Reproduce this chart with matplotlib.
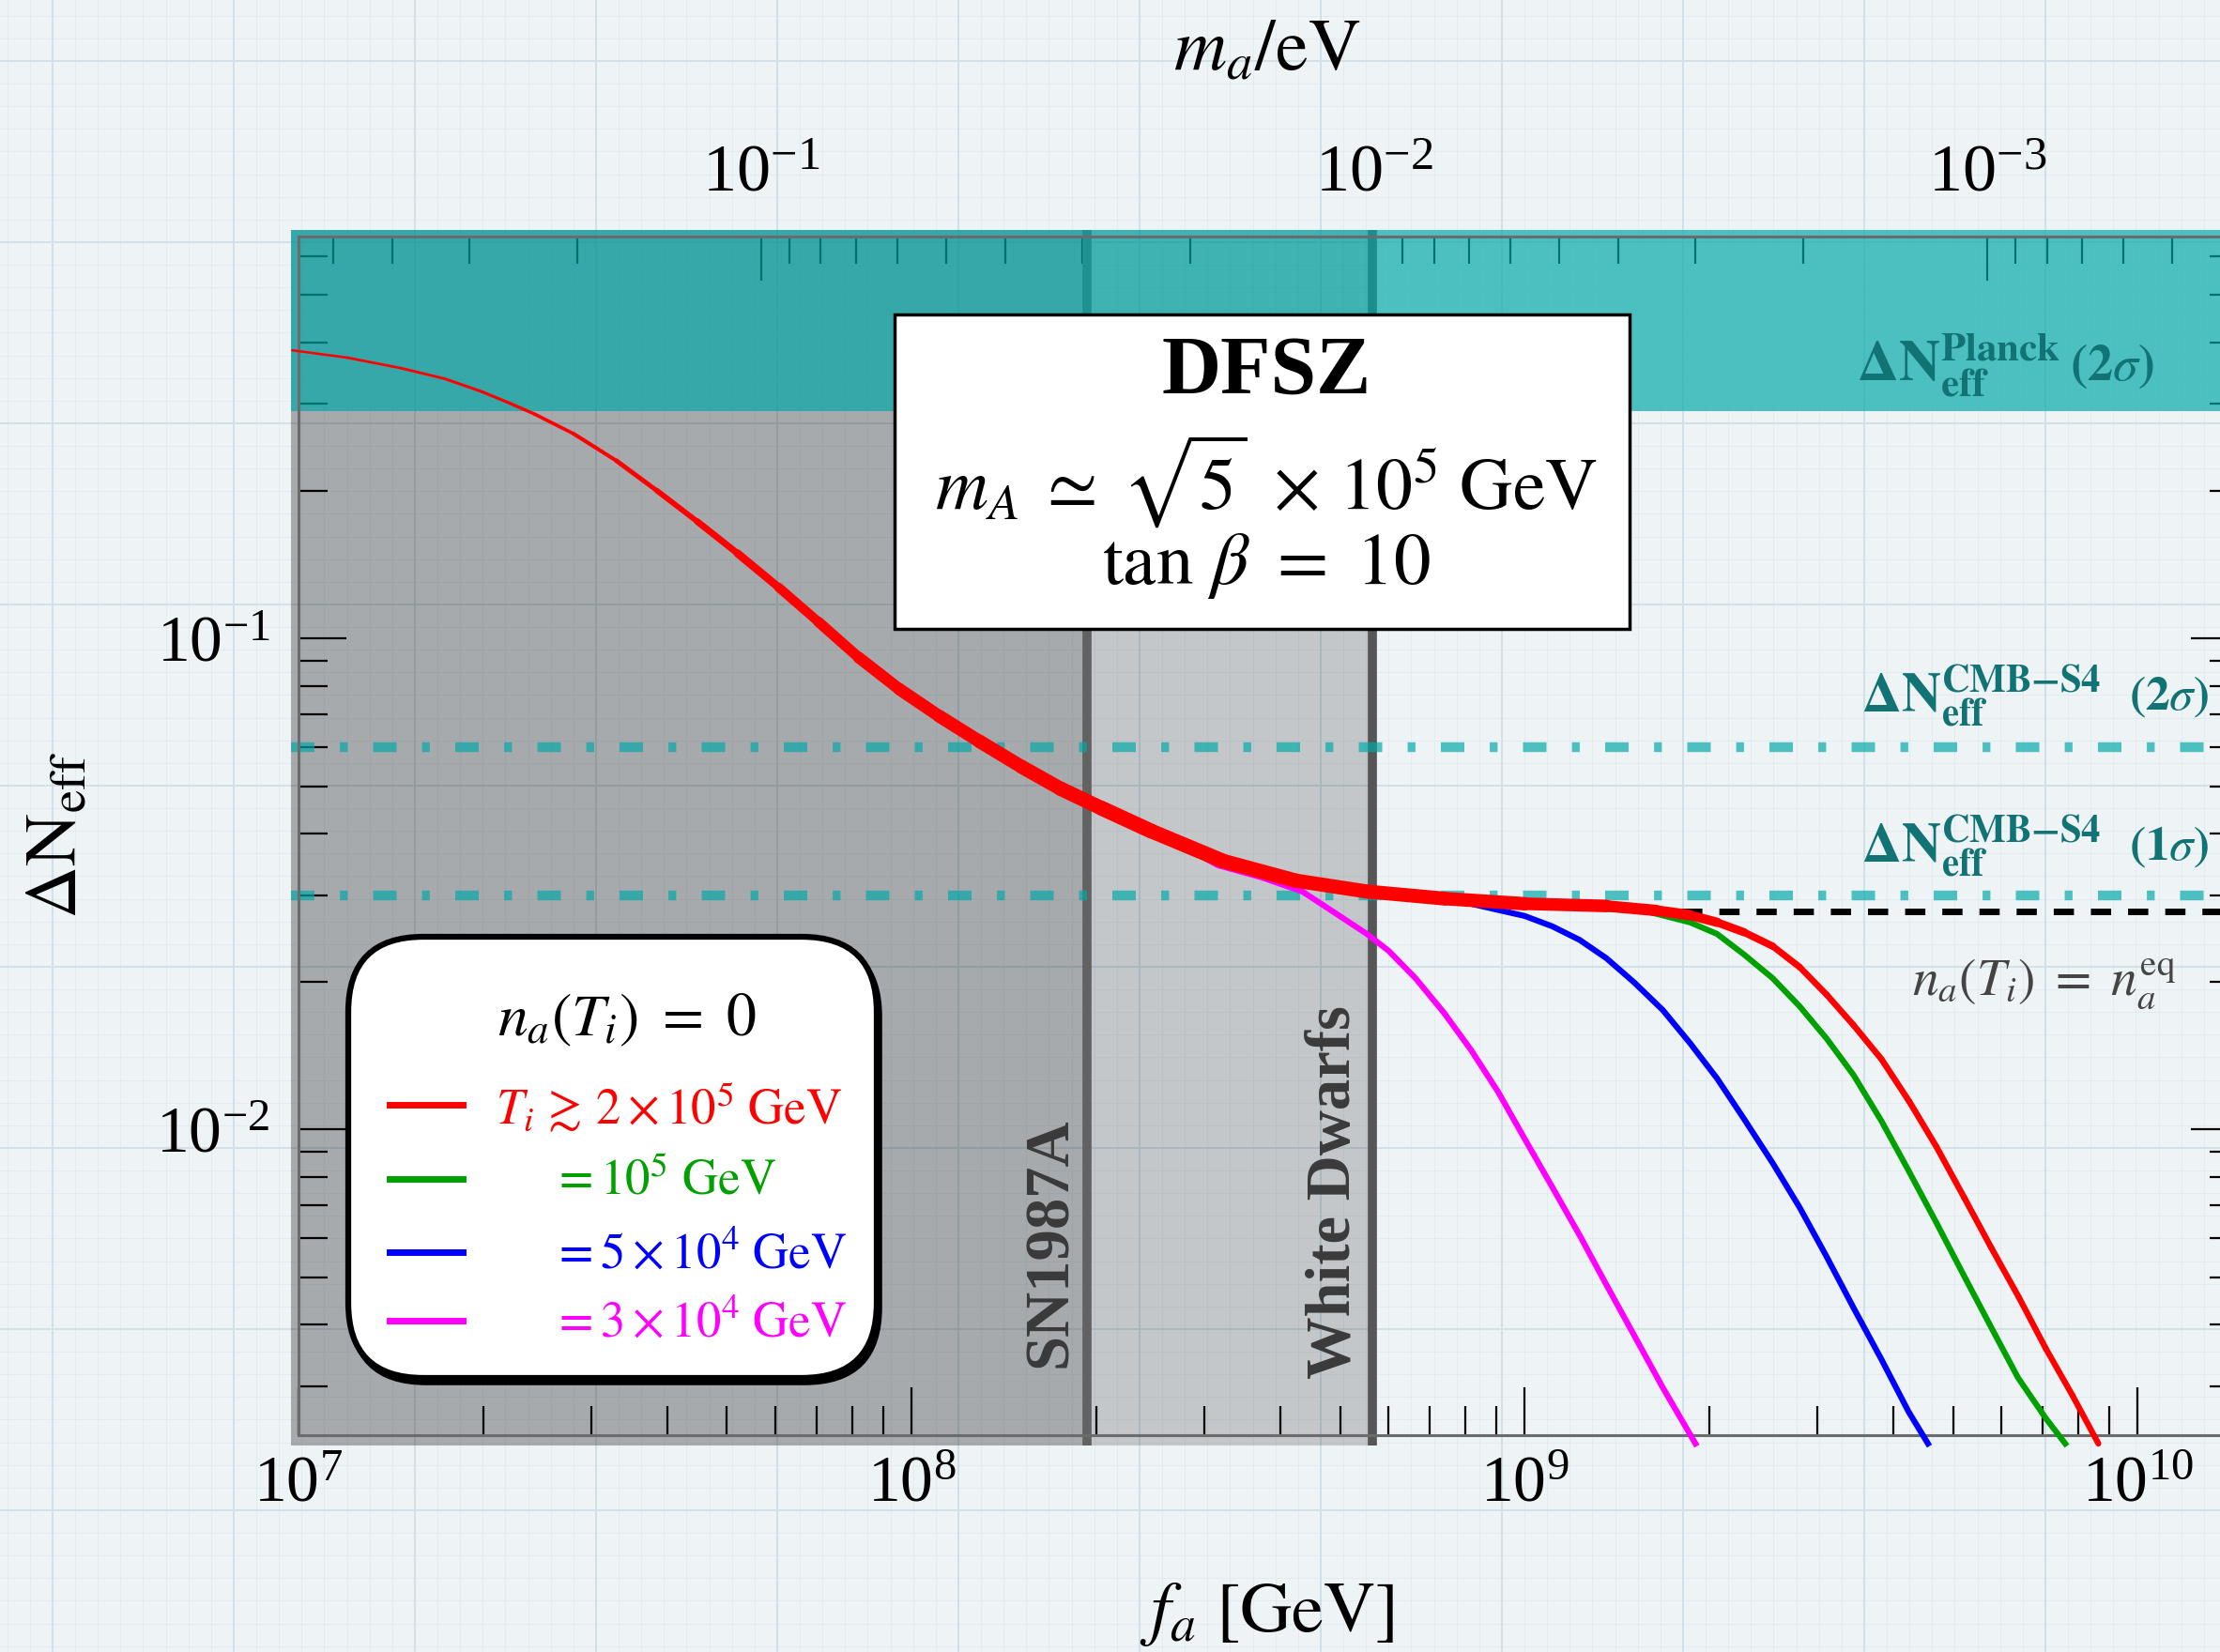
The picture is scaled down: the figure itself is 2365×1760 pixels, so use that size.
import numpy as np
import matplotlib.pyplot as plt
from matplotlib.collections import LineCollection
from matplotlib.patches import Rectangle, FancyBboxPatch
from matplotlib.lines import Line2D
from matplotlib.ticker import FixedLocator, NullFormatter

plt.rcParams['font.family'] = ['Liberation Serif', 'DejaVu Serif']
plt.rcParams['mathtext.fontset'] = 'stix'

# ---- data ----
red_fa = [9.77e6, 1.20e7, 1.47e7, 1.73e7, 1.99e7, 2.20e7, 2.43e7, 2.81e7, 3.30e7, 3.84e7,
          4.47e7, 5.20e7, 6.07e7, 7.05e7, 8.20e7, 9.55e7, 1.11e8, 1.29e8, 1.51e8, 1.75e8,
          2.04e8, 2.46e8, 3.22e8, 4.23e8, 5.53e8, 7.41e8, 1.0e9, 1.36e9, 1.64e9, 1.86e9,
          2.06e9, 2.28e9, 2.54e9, 2.81e9, 3.11e9, 3.44e9, 3.82e9, 4.24e9, 4.70e9, 5.21e9,
          5.77e9, 6.40e9, 7.08e9, 7.83e9, 8.63e9]
red_dn = [0.386, 0.373, 0.355, 0.338, 0.318, 0.302, 0.286, 0.261, 0.230, 0.200,
          0.173, 0.149, 0.127, 0.108, 0.0914, 0.0788, 0.0694, 0.0617, 0.0548, 0.0494,
          0.0451, 0.0405, 0.0352, 0.0321, 0.0305, 0.0295, 0.0288, 0.0285, 0.0279, 0.0273,
          0.0264, 0.0252, 0.0236, 0.0214, 0.0188, 0.0163, 0.0139, 0.0114, 0.0092, 0.00727,
          0.00574, 0.00455, 0.00358, 0.00287, 0.00229]

green_fa = [5.53e8, 1.0e9, 1.58e9, 1.86e9, 2.06e9, 2.28e9, 2.54e9, 2.81e9, 3.11e9,
            3.44e9, 3.82e9, 4.23e9, 4.70e9, 5.21e9, 5.77e9, 6.38e9, 7.08e9, 7.62e9]
green_dn = [0.0305, 0.0288, 0.0278, 0.0264, 0.025, 0.0227, 0.0203, 0.0178, 0.0153,
            0.0129, 0.0104, 0.00824, 0.00644, 0.00503, 0.00395, 0.00312, 0.00258, 0.00229]

blue_fa = [5.53e8, 7.41e8, 8.18e8, 8.91e8, 1.0e9, 1.11e9, 1.23e9, 1.36e9, 1.51e9, 1.68e9,
           1.86e9, 2.06e9, 2.28e9, 2.54e9, 2.81e9, 3.11e9, 3.44e9, 3.82e9, 4.23e9, 4.55e9]
blue_dn = [0.0305, 0.0294, 0.0288, 0.0281, 0.0272, 0.0259, 0.0243, 0.0223, 0.0199, 0.0175,
           0.015, 0.0127, 0.0105, 0.00853, 0.00693, 0.0055, 0.00433, 0.0034, 0.00266, 0.00229]

mag_fa = [2.51e8, 2.82e8, 3.16e8, 3.72e8, 4.34e8, 4.84e8, 5.53e8, 6.0e8, 6.64e8, 7.38e8,
          8.18e8, 9.06e8, 1.0e9, 1.11e9, 1.23e9, 1.36e9, 1.51e9, 1.68e9, 1.90e9]
mag_dn = [0.0405, 0.0373, 0.0345, 0.0326, 0.0305, 0.0279, 0.0250, 0.0231, 0.0203, 0.0173,
          0.0145, 0.0119, 0.00957, 0.00762, 0.00608, 0.00482, 0.0038, 0.00298, 0.00229]

planck_2s = 0.29
s4_2s = 0.06
s4_1s = 0.03
dn_eq = 0.0278
eq_start = 1.57e9
sn1987a = 1.93e8
white_dwarfs = 5.65e8
ma_fa = 5.69e6   # m_a [eV] * f_a [GeV]
ma_ticks = [1e-1, 1e-2, 1e-3]

# ---- figure geometry (pixels of the 2365x1760 target) ----
W, H = 2365, 1760
DPI = 100


def fx(x):
    return x / W


def fy(y):
    return 1 - y / H


fig = plt.figure(figsize=(W / DPI, H / DPI), dpi=DPI, facecolor='#eef3f6')

# graph-paper background
bg = fig.add_axes([0, 0, 1, 1], zorder=-5)
bg.set_xlim(0, W)
bg.set_ylim(H, 0)
bg.axis('off')
step = 193.0
for x in np.arange(56 - step, W + step, step / 8):
    bg.axvline(x, color='#e2eaef', lw=0.6)
for y in np.arange(65 - step, H + step, step / 8):
    bg.axhline(y, color='#e2eaef', lw=0.6)
for x in np.arange(56, W, step):
    bg.axvline(x, color='#d0e0e8', lw=1.4)
for y in np.arange(65, H, step):
    bg.axhline(y, color='#d3e0e6', lw=1.4)

ax = fig.add_axes([318 / W, 1 - 1529 / H, (2385 - 318) / W, (1529 - 252) / H])
ax.set_facecolor('none')
ax.set_xscale('log')
ax.set_yscale('log')
ax.set_xlim(1e7, 10 ** 10.165)
ax.set_ylim(10 ** -2.623, 10 ** -0.1817)

# shading reaches a little past the frame
xl0, xr = 10 ** 6.988, 10 ** 10.4
yb, yt = 10 ** -2.644, 10 ** -0.168
teal = (0.0, 0.66, 0.66)

ax.fill_between([xl0, white_dwarfs], yb, yt, color='black', alpha=0.18, lw=0, zorder=1, clip_on=False)
ax.fill_between([xl0, sn1987a], yb, yt, color='black', alpha=0.14, lw=0, zorder=1, clip_on=False)
ax.vlines([sn1987a], yb, yt, colors='#626262', lw=7, zorder=1.5, clip_on=False)
ax.vlines([white_dwarfs], yb, yt, colors='#565656', lw=7, zorder=1.5, clip_on=False)

ax.fill_between([xl0, xr], planck_2s, yt, color=teal, alpha=0.68, lw=0, zorder=2, clip_on=False)
ax.hlines([s4_2s, s4_1s], xl0, xr, colors=[teal], alpha=0.68, lw=7.5,
          linestyles=[(0, (2.4, 2.6, 0.8, 2.6))], zorder=2, clip_on=False)
ax.hlines(dn_eq, eq_start, xr, colors='black', lw=5, linestyles=[(0, (3.1, 2.6))],
          zorder=3, clip_on=False)

ax.plot(mag_fa, mag_dn, color='#ff00ff', lw=4.5, zorder=3, clip_on=False)
ax.plot(blue_fa, blue_dn, color='#0000ff', lw=4.5, zorder=3.1, clip_on=False)
ax.plot(green_fa, green_dn, color='#00a000', lw=4.5, zorder=3.2, clip_on=False)

# red curve: thicker where the family of solutions overlaps
lw_knots_x = [7.0, 7.3, 7.5, 7.65, 7.8, 7.95, 8.15, 8.35, 8.6, 8.9, 9.1, 9.25, 9.35, 9.45, 10.0]
lw_knots_w = [1.8, 2.2, 3.0, 4.5, 7.0, 9.0, 10.5, 11.5, 11.0, 10.5, 9.5, 8.0, 6.0, 4.8, 4.5]
pts = np.column_stack([red_fa, red_dn])
segs = np.stack([pts[:-1], pts[1:]], axis=1)
mid = 0.5 * (np.log10(pts[:-1, 0]) + np.log10(pts[1:, 0]))
red_lw = np.interp(mid, lw_knots_x, lw_knots_w)
lc = LineCollection(segs, linewidths=red_lw, colors='#ff0000', capstyle='round',
                    joinstyle='round', zorder=3.5, clip_on=False)
ax.add_collection(lc, autolim=False)

# ticks / spines
for s in ax.spines.values():
    s.set_color('#6b6b6b')
    s.set_linewidth(2.2)
ax.tick_params(which='both', direction='in', top=False, right=True, width=1.6, colors='black')
ax.tick_params(which='major', length=37, labelsize=50)
ax.tick_params(which='minor', length=22)
ax.tick_params(axis='x', pad=16)
ax.tick_params(axis='y', pad=22)

secax = ax.secondary_xaxis('top', functions=(lambda f: ma_fa / np.asarray(f),
                                              lambda m: ma_fa / np.asarray(m)))
secax.xaxis.set_major_locator(FixedLocator(ma_ticks))
secax.xaxis.set_minor_formatter(NullFormatter())
secax.tick_params(which='both', direction='in', width=1.6)
secax.tick_params(which='major', length=34, labelsize=52, pad=24)
secax.tick_params(which='minor', length=21)
secax.spines['top'].set_color('#6b6b6b')
secax.spines['top'].set_linewidth(2.2)

# axis labels
fig.text(fx(1350), fy(55), r'$m_a/\mathrm{eV}$', fontsize=56, ha='center', va='center')
fig.text(fx(1350), fy(1720), r'$f_a\ [\mathrm{GeV}]$', fontsize=55, ha='center', va='center')
fig.text(fx(62), fy(890), r'$\Delta\mathrm{N}_{\mathrm{eff}}$', fontsize=56, rotation=90,
         ha='center', va='center')

# teal labels
tcol = '#117373'
fig.text(fx(1978), fy(406), r'$\mathbf{\Delta N}_{\mathbf{eff}}^{\mathbf{Planck}}$',
         fontsize=44, color=tcol, ha='left', va='baseline')
fig.text(fx(2295), fy(405), r'$\mathbf{(2}\sigma\mathbf{)}$', fontsize=39, color=tcol,
         ha='right', va='baseline')
fig.text(fx(1983), fy(758), r'$\mathbf{\Delta N}_{\mathbf{eff}}^{\mathbf{CMB{-}S4}}$',
         fontsize=42, color=tcol, ha='left', va='baseline')
fig.text(fx(2353), fy(756), r'$\mathbf{(2}\sigma\mathbf{)}$', fontsize=37, color=tcol,
         ha='right', va='baseline')
fig.text(fx(1983), fy(918), r'$\mathbf{\Delta N}_{\mathbf{eff}}^{\mathbf{CMB{-}S4}}$',
         fontsize=42, color=tcol, ha='left', va='baseline')
fig.text(fx(2353), fy(916), r'$\mathbf{(1}\sigma\mathbf{)}$', fontsize=37, color=tcol,
         ha='right', va='baseline')

fig.text(fx(2318), fy(1060), r'$n_a(T_i)\ =\ n_a^{\mathrm{eq}}$', fontsize=40, color='#444444',
         ha='right', va='baseline')

fig.text(fx(1120), fy(1324), 'SN1987A', fontsize=48, fontweight='bold', color='#3a3a3a',
         rotation=90, ha='center', va='center')
fig.text(fx(1421), fy(1270), 'White Dwarfs', fontsize=48, fontweight='bold', color='#3a3a3a',
         rotation=90, ha='center', va='center')

# DFSZ box
box = Rectangle((fx(953), fy(670)), (1736 - 953) / W, (670 - 335) / H, transform=fig.transFigure,
                facecolor='white', edgecolor='black', lw=2.5, zorder=5)
fig.add_artist(box)
fig.text(fx(1349), fy(397), 'DFSZ', fontsize=63, fontweight='bold', ha='center', va='center', zorder=6)
fig.text(fx(1349), fy(513), r'$m_A\;\simeq\;\sqrt{5}\ \times\,10^{5}\ \mathrm{GeV}$', fontsize=56,
         ha='center', va='center', zorder=6)
fig.text(fx(1349), fy(603), r'$\tan\,\beta\ =\ 10$', fontsize=57, ha='center', va='center', zorder=6)

# legend box
shadow = FancyBboxPatch((3.71 + 0.03, (H - 1468) / DPI - 0.05), 5.63, 4.70,
                        boxstyle='round,pad=0,rounding_size=0.8', transform=fig.dpi_scale_trans,
                        facecolor='black', edgecolor='black', lw=4, zorder=5)
fig.add_artist(shadow)
leg = FancyBboxPatch((3.71, (H - 1468) / DPI), 5.63, 4.70,
                     boxstyle='round,pad=0,rounding_size=0.8', transform=fig.dpi_scale_trans,
                     facecolor='white', edgecolor='black', lw=4.5, zorder=5.5)
fig.add_artist(leg)
fig.text(fx(668), fy(1087), r'$n_a(T_i)\ =\ 0$', fontsize=46, ha='center', va='center', zorder=6)

leg_colors = ['#ff0000', '#00a000', '#0000ff', '#ff00ff']
leg_y = [1177, 1256, 1334, 1407]
leg_x = [528, 588, 588, 588]
leg_txt = [r'$T_i\,\gtrsim\,2\times 10^{5}\ \mathrm{GeV}$',
           r'$=10^{5}\ \mathrm{GeV}$',
           r'$=5\times 10^{4}\ \mathrm{GeV}$',
           r'$=3\times 10^{4}\ \mathrm{GeV}$']
for c, y, x, t in zip(leg_colors, leg_y, leg_x, leg_txt):
    fig.add_artist(Line2D([fx(415), fx(493)], [fy(y), fy(y)], transform=fig.transFigure,
                          color=c, lw=5, zorder=7))
    fig.text(fx(x), fy(y + 3), t, fontsize=38, color=c, ha='left', va='center', zorder=7)

fig.savefig('out.png', dpi=DPI, facecolor=fig.get_facecolor())
